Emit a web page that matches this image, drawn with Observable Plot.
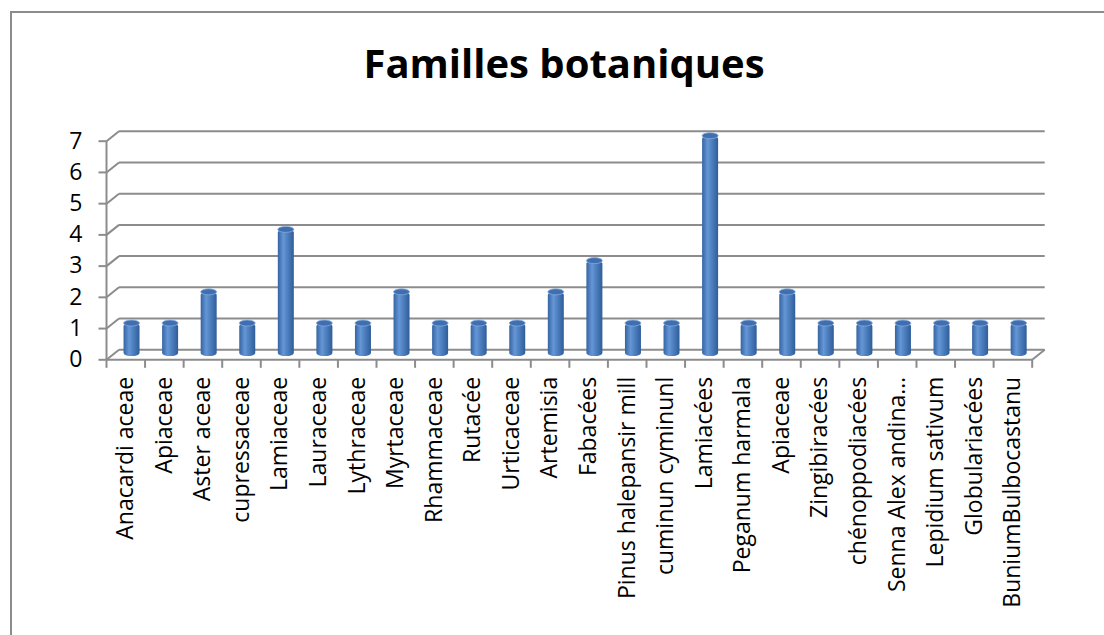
<!DOCTYPE html>
<html>
<head>
<meta charset="utf-8">
<script src="https://cdn.jsdelivr.net/npm/d3@7"></script>
<script src="https://cdn.jsdelivr.net/npm/@observablehq/plot@0.6"></script>
<style>
  html, body { margin: 0; padding: 0; background: #fff; overflow: hidden; width: 1104px; height: 635px; }
  #frame { position: absolute; left: 10px; top: 11px; width: 1300px; height: 800px; border-left: 2px solid #8c8c8c; border-top: 2px solid #8c8c8c; box-sizing: border-box; }
  #title { position: absolute; left: 0; width: 1128px; top: 38px; text-align: center; font-family: "Open Sans", sans-serif; font-weight: 700; font-size: 40px; line-height: 50px; color: #000; }
  #chart { position: absolute; left: 0; top: 110px; }
</style>
</head>
<body>
<div id="frame"></div>
<div id="title">Familles botaniques</div>
<div id="chart"></div>
<script>
// ---- data ----
const categories = [
  "Anacardi aceae", "Apiaceae", "Aster aceae", "cupressaceae", "Lamiaceae",
  "Lauraceae", "Lythraceae", "Myrtaceae", "Rhammaceae", "Rutacée",
  "Urticaceae", "Artemisia", "Fabacées", "Pinus halepansir mill", "cuminun cyminunl",
  "Lamiacées", "Peganum harmala", "Apiaceae", "Zingibiracées", "chénoppodiacées",
  "Senna Alex andina…", "Lepidium sativum", "Globulariacées", "BuniumBulbocastanu"
];
const values = [1, 1, 2, 1, 4, 1, 1, 2, 1, 1, 1, 2, 3, 1, 1, 7, 1, 2, 1, 1, 1, 1, 1, 1];
const yTicks = [0, 1, 2, 3, 4, 5, 6, 7];

// ---- layout / style ----
const W = 1104, H = 525;
const mL = 106, mR = 72.3, mT = 30.7, mB = 275.7;
const n = categories.length;
const bandPx = (W - mL - mR) / n;
const unitPx = (H - mT - mB) / 7;
const DX = 12.5 / bandPx;   // 3D depth in category units
const DY = 10 / unitPx;     // 3D depth in value units
const barHalf = 8 / bandPx;
const capH = 3 / unitPx;
const tickLen = 8 / unitPx;
const gray = "#8c8c8c";

const rows = categories.map((c, i) => ({i, c, v: values[i]}));
const bounds = d3.range(n + 1);

const plot = Plot.plot({
  width: W, height: H,
  marginLeft: mL, marginRight: mR, marginTop: mT, marginBottom: mB,
  style: {fontFamily: "'Open Sans', sans-serif", color: "#000", background: "transparent", overflow: "visible"},
  x: {type: "linear", domain: [0, n], axis: null},
  y: {type: "linear", domain: [0, 7], axis: null},
  marks: [
    // back-wall gridlines
    Plot.link(yTicks, {x1: DX, x2: n + DX, y1: d => d + DY, y2: d => d + DY, stroke: gray, strokeWidth: 2}),
    // left wall diagonals
    Plot.link(yTicks, {x1: 0, x2: DX, y1: d => d, y2: d => d + DY, stroke: gray, strokeWidth: 2}),
    // floor right diagonal
    Plot.link([0], {x1: n, x2: n + DX, y1: 0, y2: DY, stroke: gray, strokeWidth: 2}),
    // y axis line
    Plot.link([0], {x1: 0, x2: 0, y1: 0, y2: 7, stroke: gray, strokeWidth: 2}),
    // x axis line
    Plot.link([0], {x1: 0, x2: n, y1: 0, y2: 0, stroke: gray, strokeWidth: 2}),
    // x ticks at category boundaries (hang below axis)
    Plot.link(bounds, {x1: d => d, x2: d => d, y1: 0, y2: -tickLen, stroke: gray, strokeWidth: 2}),
    // y ticks
    Plot.link(yTicks, {x1: 0, x2: -8 / bandPx, y1: d => d, y2: d => d, stroke: gray, strokeWidth: 2}),
    // cylinders
    Plot.rect(rows, {
      x1: d => d.i + 0.5 + DX / 2 - barHalf, x2: d => d.i + 0.5 + DX / 2 + barHalf,
      y1: DY / 2 - capH * 0.6, y2: d => d.v + DY / 2,
      fill: "url(#cyl)", rx: 8, ry: 3
    }),
    Plot.rect(rows, {
      x1: d => d.i + 0.5 + DX / 2 - barHalf, x2: d => d.i + 0.5 + DX / 2 + barHalf,
      y1: d => d.v + DY / 2 - capH, y2: d => d.v + DY / 2 + capH,
      fill: "#3f6fb1", stroke: "#86abdc", strokeWidth: 0.8, rx: 8, ry: 3
    }),
    // y tick labels
    Plot.axisY({ticks: yTicks, tickFormat: "d", tickSize: 0, tickPadding: 24, fontSize: 23, label: null}),
    // x labels
    Plot.axisX({ticks: d3.range(n).map(i => i + 0.5), tickFormat: t => categories[Math.floor(t)], tickRotate: -90, tickSize: 0, tickPadding: 17, fontSize: 23, label: null})
  ]
});

// gradient for cylinder body
const ns = "http://www.w3.org/2000/svg";
const defs = document.createElementNS(ns, "defs");
defs.innerHTML = `
<linearGradient id="cyl" x1="0" x2="1" y1="0" y2="0">
  <stop offset="0" stop-color="#3564a2"/>
  <stop offset="0.35" stop-color="#6596d6"/>
  <stop offset="0.6" stop-color="#4e80c0"/>
  <stop offset="1" stop-color="#2f5d99"/>
</linearGradient>`;
plot.insertBefore(defs, plot.firstChild);
document.getElementById("chart").appendChild(plot);
</script>
</body>
</html>
